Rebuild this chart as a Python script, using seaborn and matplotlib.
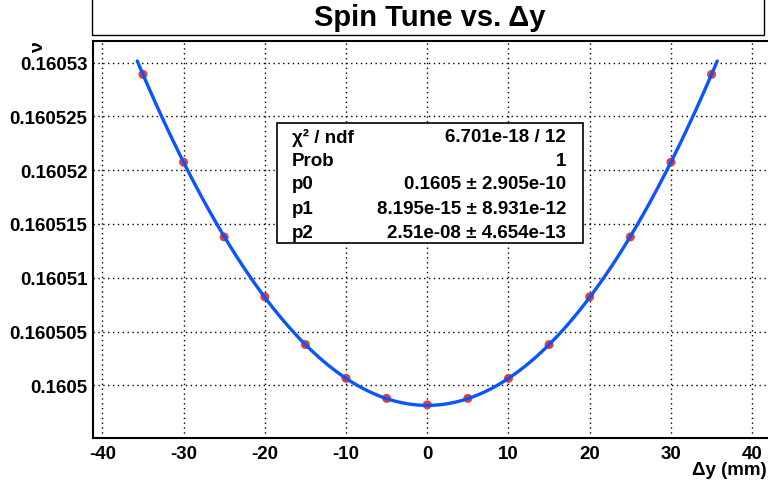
import numpy as np
import pandas as pd
import matplotlib
matplotlib.use("Agg")
import matplotlib.pyplot as plt
from matplotlib.patches import Rectangle
import seaborn as sns

# ---- data ----
dy_mm = [-35, -30, -25, -20, -15, -10, -5, 0, 5, 10, 15, 20, 25, 30, 35]
spin_tune = [0.1605289, 0.16052074, 0.1605138, 0.16050824, 0.1605038, 0.16050066,
             0.1604988, 0.1604982, 0.1604988, 0.16050066, 0.1605038, 0.16050824,
             0.1605138, 0.16052074, 0.1605289]
fit_params = [0.16049815, 8.195e-15, 2.51e-08]   # p0 + p1*x + p2*x^2
fit_range = [-35.7, 35.7]

x_ticks = [-40, -30, -20, -10, 0, 10, 20, 30, 40]
x_tick_labels = ["-40", "-30", "-20", "-10", "0", "10", "20", "30", "40"]
y_ticks = [0.1605, 0.160505, 0.16051, 0.160515, 0.16052, 0.160525, 0.16053]
y_tick_labels = ["0.1605", "0.160505", "0.16051", "0.160515", "0.16052", "0.160525", "0.16053"]

stats_names = ["\u03c7\u00b2 / ndf", "Prob", "p0", "p1", "p2"]
stats_values = ["6.701e-18 / 12", "1", "0.1605 \u00b1 2.905e-10",
                "8.195e-15 \u00b1 8.931e-12", "2.51e-08 \u00b1 4.654e-13"]

sns.set_style("white")
plt.rcParams['font.family'] = ['Liberation Sans', 'DejaVu Sans']
plt.rcParams['font.weight'] = 'bold'
plt.rcParams['text.color'] = 'black'
plt.rcParams['xtick.color'] = 'black'
plt.rcParams['ytick.color'] = 'black'
plt.rcParams['axes.labelcolor'] = 'black'

W, H = 768, 489
fig = plt.figure(figsize=(W / 100, H / 100), dpi=100)

def fx(px):
    return px / W

def fy(py):
    return 1 - py / H

ax = fig.add_axes([fx(93), fy(439), fx(768) - fx(93), fy(42) - fy(439)])

df = pd.DataFrame({"dy": dy_mm, "nu": spin_tune})
xf = np.linspace(fit_range[0], fit_range[1], 400)
yf = fit_params[0] + fit_params[1] * xf + fit_params[2] * xf ** 2
fit_df = pd.DataFrame({"dy": xf, "nu": yf})

sns.scatterplot(data=df, x="dy", y="nu", ax=ax, color="#f03c30", s=42,
                edgecolor="none", zorder=3)
sns.lineplot(data=fit_df, x="dy", y="nu", ax=ax, color="#0a55ff", linewidth=2.4,
             zorder=4, sort=False)

ax.set_xlim(-41.15, 41.95)
ax.set_ylim(0.16049512, 0.16053195)

ax.set_xticks(x_ticks)
ax.set_xticklabels(x_tick_labels, fontsize=13.5, fontweight="bold")
ax.set_yticks(y_ticks)
ax.set_yticklabels(y_tick_labels, fontsize=13.5, fontweight="bold")
ax.set_xticks(np.arange(-40, 42, 2), minor=True)
ax.set_yticks(np.arange(0.160496, 0.160532, 0.000001), minor=True)

ax.tick_params(axis="both", which="major", direction="in", length=8, width=1,
               color="black", labelcolor="black", pad=4)
ax.tick_params(axis="both", which="minor", direction="in", length=4, width=1,
               color="black")
ax.tick_params(axis="x", which="major", pad=5)
ax.tick_params(top=False, right=False)

ax.grid(True, which="major", color="black", linestyle=(0, (1, 2.5)), linewidth=1)
ax.set_axisbelow(True)

for s in ["left", "bottom", "top"]:
    ax.spines[s].set_visible(True)
    ax.spines[s].set_color("black")
    ax.spines[s].set_linewidth(1.5)
ax.spines["right"].set_visible(False)

ax.set_xlabel("")
ax.set_ylabel("")

# axis titles (ROOT-style, right/top aligned)
fig.text(fx(767), fy(471), "\u0394y (mm)", ha="right", va="center",
         fontsize=13.5, fontweight="bold")
fig.text(fx(39), fy(42), "\u03bd", ha="center", va="top", rotation=90,
         fontsize=14, fontweight="bold")

# title box
fig.add_artist(Rectangle((fx(92), fy(36)), fx(764) - fx(92), fy(-2) - fy(36),
                         transform=fig.transFigure, facecolor="white",
                         edgecolor="black", linewidth=1.0))
fig.text(fx(430), fy(18), "Spin Tune vs. \u0394y", ha="center", va="center",
         fontsize=21, fontweight="bold")

# stats box
fig.add_artist(Rectangle((fx(277), fy(244)), fx(583) - fx(277), fy(124) - fy(244),
                         transform=fig.transFigure, facecolor="white",
                         edgecolor="black", linewidth=1.2, zorder=10))
rows_y = [138, 161, 185, 209, 233]
for name, val, ry in zip(stats_names, stats_values, rows_y):
    fig.text(fx(292), fy(ry), name, ha="left", va="center", fontsize=13.5,
             fontweight="bold", zorder=11)
    fig.text(fx(566), fy(ry), val, ha="right", va="center", fontsize=13.5,
             fontweight="bold", zorder=11)

fig.savefig("out.png", dpi=100)
